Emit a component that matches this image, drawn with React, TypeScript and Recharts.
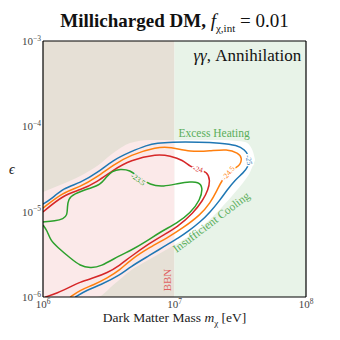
import React from 'react';
import {
  ComposedChart,
  XAxis,
  YAxis,
  Line,
  Area,
  ReferenceArea,
  ReferenceDot,
} from 'recharts';

const serif = '"Liberation Serif", "DejaVu Serif", serif';

// envelope drawn around the contours (pink below BBN mass, white above)
const envMass = [1e6, 1.35e6, 1.92e6, 2.58e6, 3.42e6, 4.59e6, 6.53e6, 1e7, 1.57e7, 2.22e7, 2.99e7, 3.44e7, 3.76e7, 3.96e7, 4.1e7];
const envLow = [1e-6, 1e-6, 1e-6, 1e-6, 1.38e-6, 2.02e-6, 2.79e-6, 4.07e-6, 6.44e-6, 1.07e-5, 1.79e-5, 2.35e-5, 2.92e-5, 3.52e-5, 4.03e-5];
const envHigh = [1.7e-5, 2.05e-5, 2.62e-5, 3.43e-5, 4.87e-5, 6.38e-5, 6.92e-5, 6.92e-5, 6.92e-5, 6.92e-5, 6.73e-5, 6.55e-5, 5.88e-5, 5.0e-5, 4.03e-5];

const bbnMass = 1e7;

// contours, [mass eV, epsilon]
const contour25: [number, number][] = [
  [1e6, 1.23e-5], [1.135e6, 1.37e-5], [1.43e6, 1.89e-5], [1.92e6, 2.17e-5], [2.58e6, 2.84e-5],
  [3.42e6, 4.03e-5], [4.59e6, 5.0e-5], [6.19e6, 6.04e-5], [7.38e6, 6.38e-5], [9.27e6, 6.55e-5],
  [1.57e7, 6.55e-5], [2.22e7, 6.38e-5], [2.99e7, 6.04e-5], [3.44e7, 5.28e-5], [3.63e7, 4.61e-5],
  [3.69e7, 4.03e-5], [3.63e7, 3.34e-5], [3.33e7, 2.84e-5], [2.89e7, 2.35e-5], [2.51e7, 1.79e-5],
  [2.22e7, 1.37e-5], [1.87e7, 9.91e-6], [1.57e7, 7.57e-6], [1.25e7, 5.78e-6], [1.1e7, 5.05e-6],
  [8.2e6, 3.85e-6], [6.53e6, 3.1e-6], [4.59e6, 2.25e-6], [3.86e6, 1.81e-6], [2.72e6, 1.38e-6],
  [2.17e6, 1.21e-6], [1.76e6, 1.0e-6],
];
const contour245: [number, number][] = [
  [1e6, 1.1e-5], [1.43e6, 1.7e-5], [1.92e6, 1.95e-5], [2.58e6, 2.55e-5], [3.42e6, 3.52e-5],
  [4.59e6, 4.61e-5], [7.38e6, 5.73e-5], [9.27e6, 5.73e-5], [1.32e7, 5.0e-5], [1.87e7, 5.14e-5],
  [2.51e7, 5.42e-5], [3.05e7, 4.87e-5], [3.27e7, 4.26e-5], [3.16e7, 3.52e-5], [2.89e7, 3.25e-5],
  [2.56e7, 2.84e-5], [2.3e7, 2.35e-5], [2.11e7, 1.79e-5], [1.87e7, 1.26e-5], [1.57e7, 9.14e-6],
  [1.16e7, 6.44e-6], [8.79e6, 4.91e-6], [6.53e6, 3.85e-6], [4.59e6, 2.71e-6], [3.86e6, 2.07e-6],
  [3.08e6, 1.67e-6], [2.41e6, 1.38e-6], [1.92e6, 1.21e-6], [1.61e6, 1.0e-6],
];
const contour24: [number, number][] = [
  [1e6, 9.91e-6], [1.43e6, 1.57e-5], [1.92e6, 1.79e-5], [2.58e6, 2.23e-5], [3.42e6, 3.08e-5],
  [4.59e6, 4.03e-5], [7.38e6, 4.74e-5], [9.27e6, 4.49e-5], [1.16e7, 4.03e-5], [1.32e7, 3.34e-5],
  [1.51e7, 3.16e-5], [1.77e7, 2.92e-5], [1.87e7, 2.35e-5], [1.8e7, 1.79e-5], [1.65e7, 1.37e-5],
  [1.39e7, 9.64e-6], [1.05e7, 6.61e-6], [8.2e6, 5.32e-6], [6.53e6, 4.3e-6], [4.59e6, 2.94e-6],
  [3.86e6, 2.37e-6], [3.08e6, 1.91e-6], [2.41e6, 1.67e-6], [1.92e6, 1.5e-6], [1.61e6, 1.31e-6],
  [1.285e6, 1.11e-6], [1.04e6, 1.0e-6],
];
const contour235: [number, number][] = [
  [1e6, 7.57e-6], [1.24e6, 7.78e-6], [1.43e6, 8.2e-6], [1.53e6, 9.14e-6], [1.53e6, 1.13e-5],
  [1.56e6, 1.41e-5], [1.7e6, 1.61e-5], [2.29e6, 1.89e-5], [2.72e6, 2.05e-5], [3.03e6, 2.55e-5],
  [3.36e6, 3.0e-5], [3.86e6, 3.16e-5], [4.59e6, 3.08e-5], [5.3e6, 2.55e-5], [6.53e6, 2.05e-5],
  [8.2e6, 1.95e-5], [1.1e7, 2.17e-5], [1.32e7, 2.23e-5], [1.51e7, 2.23e-5], [1.65e7, 1.95e-5],
  [1.57e7, 1.37e-5], [1.32e7, 9.64e-6], [1.05e7, 7.36e-6], [7.78e6, 5.78e-6], [6.19e6, 4.53e-6],
  [4.59e6, 3.46e-6], [3.86e6, 3.1e-6], [2.72e6, 2.25e-6], [2.29e6, 2.19e-6], [1.92e6, 2.31e-6],
  [1.61e6, 2.86e-6], [1.285e6, 3.85e-6], [1.135e6, 4.66e-6], [1.08e6, 5.93e-6], [1e6, 6.98e-6],
];

const xMajor = [1e6, 1e7, 1e8];
const xMinor = [2e6, 3e6, 4e6, 5e6, 6e6, 7e6, 8e6, 9e6, 2e7, 3e7, 4e7, 5e7, 6e7, 7e7, 8e7, 9e7];
const yMajor = [1e-6, 1e-5, 1e-4, 1e-3];
const yMinor = [
  2e-6, 3e-6, 4e-6, 5e-6, 6e-6, 7e-6, 8e-6, 9e-6,
  2e-5, 3e-5, 4e-5, 5e-5, 6e-5, 7e-5, 8e-5, 9e-5,
  2e-4, 3e-4, 4e-4, 5e-4, 6e-4, 7e-4, 8e-4, 9e-4,
];

const envelopeRows = envMass.map((m, i) => ({
  m,
  pink: m <= bbnMass ? [envLow[i], envHigh[i]] : null,
  white: m >= bbnMass ? [envLow[i], envHigh[i]] : null,
}));

const toRows = (pts: [number, number][]) => pts.map(([m, eps]) => ({ m, eps }));

const contours = [
  { key: 'c25', color: '#1f77b4', rows: toRows(contour25) },
  { key: 'c245', color: '#ff7f0e', rows: toRows(contour245) },
  { key: 'c24', color: '#d62728', rows: toRows(contour24) },
  { key: 'c235', color: '#2ca02c', rows: toRows(contour235) },
];

// text placed in data coordinates
const notes = [
  { text: '-25', m: 3.69e7, eps: 4.03e-5, color: '#1f77b4', angle: 80, size: 7.5, halo: '#fff' },
  { text: '-24.5', m: 2.56e7, eps: 2.84e-5, color: '#ff7f0e', angle: -50, size: 7.5, halo: '#fff' },
  { text: '-24', m: 1.51e7, eps: 3.16e-5, color: '#d62728', angle: 15, size: 7.5, halo: '#fff' },
  { text: '-23.5', m: 5.3e6, eps: 2.4e-5, color: '#2ca02c', angle: 35, size: 7.5, halo: '#fbe9e9' },
  { text: 'Excess Heating', m: 2.0e7, eps: 8.35e-5, color: '#5aae5a', angle: 0, size: 11.5, halo: null },
  { text: 'Insufficient Cooling', m: 1.9e7, eps: 7.57e-6, color: '#5aae5a', angle: -37, size: 11.5, halo: null },
  { text: 'BBN', m: 8.79e6, eps: 1.58e-6, color: '#e06060', angle: -90, size: 11, halo: null },
];

const supText = (v: number) => {
  const e = Math.round(Math.log10(v));
  return e < 0 ? `\u2212${-e}` : `${e}`;
};

const BottomTick = (props: any) => {
  const { x, y, payload } = props;
  return (
    <text x={x} y={y} dy={9} textAnchor="middle" fontSize={11} fill="#444" fontFamily={serif}>
      10<tspan dy={-4.5} fontSize={7.5}>{supText(payload.value)}</tspan>
    </text>
  );
};

const LeftTick = (props: any) => {
  const { x, y, payload } = props;
  return (
    <text x={x} y={y} dy={4} textAnchor="end" fontSize={11} fill="#444" fontFamily={serif}>
      10<tspan dy={-4.5} fontSize={7.5}>{supText(payload.value)}</tspan>
    </text>
  );
};

const noteShape = (n: (typeof notes)[number]) => (p: any) => (
  <text
    x={p.cx}
    y={p.cy}
    dy={n.size * 0.35}
    textAnchor="middle"
    fontSize={n.size}
    fill={n.color}
    fontFamily={serif}
    stroke={n.halo || 'none'}
    strokeWidth={n.halo ? 3 : 0}
    paintOrder="stroke"
    transform={`rotate(${n.angle} ${p.cx} ${p.cy})`}
  >
    {n.text}
  </text>
);

const tickAxis = { type: 'number' as const, scale: 'log' as const, allowDataOverflow: true, mirror: true, tick: false };

export default function App() {
  return (
    <div style={{ position: 'absolute', left: 0, top: 0, width: 340, height: 340, background: '#fff', fontFamily: serif }}>
      <div
        style={{
          position: 'absolute', top: 10, left: 0, width: 349, textAlign: 'center',
          fontSize: 19, fontWeight: 'bold', lineHeight: '22px', color: '#111',
        }}
      >
        Millicharged DM,{' '}
        <span style={{ fontWeight: 'normal' }}>
          <i>f</i>
          <sub style={{ fontSize: 11 }}>χ,int</sub> = 0.01
        </span>
      </div>
      <ComposedChart
        width={340}
        height={340}
        data={envelopeRows}
        margin={{ top: 41, right: 34, bottom: 0, left: 0 }}
        style={{ position: 'absolute', left: 0, top: 0 }}
      >
        <XAxis
          xAxisId="x" type="number" dataKey="m" scale="log" domain={[1e6, 1e8]} allowDataOverflow
          ticks={xMajor} interval={0} tick={<BottomTick />} tickLine={false} tickSize={0} tickMargin={2}
          axisLine={{ stroke: '#000', strokeWidth: 1.2 }} height={43}
        />
        <YAxis
          yAxisId="y" type="number" dataKey="eps" scale="log" domain={[1e-6, 1e-3]} allowDataOverflow
          ticks={yMajor} interval={0} tick={<LeftTick />} tickLine={false} tickSize={0} tickMargin={2}
          axisLine={{ stroke: '#000', strokeWidth: 1.2 }} width={43}
        />
        <XAxis xAxisId="xb1" {...tickAxis} domain={[1e6, 1e8]} ticks={xMajor} interval={0} tickSize={5} axisLine={false} tickLine={{ stroke: '#000' }} />
        <XAxis xAxisId="xb2" {...tickAxis} domain={[1e6, 1e8]} ticks={xMinor} interval={0} tickSize={2.5} axisLine={false} tickLine={{ stroke: '#000' }} />
        <XAxis xAxisId="xt1" orientation="top" {...tickAxis} domain={[1e6, 1e8]} ticks={xMajor} interval={0} tickSize={5} axisLine={{ stroke: '#000', strokeWidth: 1.2 }} tickLine={{ stroke: '#000' }} />
        <XAxis xAxisId="xt2" orientation="top" {...tickAxis} domain={[1e6, 1e8]} ticks={xMinor} interval={0} tickSize={2.5} axisLine={false} tickLine={{ stroke: '#000' }} />
        <YAxis yAxisId="yl1" {...tickAxis} domain={[1e-6, 1e-3]} ticks={yMajor} interval={0} tickSize={5} axisLine={false} tickLine={{ stroke: '#000' }} />
        <YAxis yAxisId="yl2" {...tickAxis} domain={[1e-6, 1e-3]} ticks={yMinor} interval={0} tickSize={2.5} axisLine={false} tickLine={{ stroke: '#000' }} />
        <YAxis yAxisId="yr1" orientation="right" {...tickAxis} domain={[1e-6, 1e-3]} ticks={yMajor} interval={0} tickSize={5} axisLine={{ stroke: '#000', strokeWidth: 1.2 }} tickLine={{ stroke: '#000' }} />
        <YAxis yAxisId="yr2" orientation="right" {...tickAxis} domain={[1e-6, 1e-3]} ticks={yMinor} interval={0} tickSize={2.5} axisLine={false} tickLine={{ stroke: '#000' }} />

        <ReferenceArea xAxisId="x" yAxisId="y" x1={1e6} x2={bbnMass} y1={1e-6} y2={1e-3} fill="#e6e0d6" fillOpacity={1} stroke="none" />
        <ReferenceArea xAxisId="x" yAxisId="y" x1={bbnMass} x2={1e8} y1={1e-6} y2={1e-3} fill="#e8f3e8" fillOpacity={1} stroke="none" />

        <Area xAxisId="x" yAxisId="y" dataKey="pink" type="monotone" fill="#fbe9e9" fillOpacity={1} stroke="none" isAnimationActive={false} />
        <Area xAxisId="x" yAxisId="y" dataKey="white" type="monotone" fill="#ffffff" fillOpacity={1} stroke="none" isAnimationActive={false} />

        {contours.map((c) => (
          <Line
            key={c.key}
            xAxisId="x"
            yAxisId="y"
            data={c.rows}
            dataKey="eps"
            type="basis"
            stroke={c.color}
            strokeWidth={1.5}
            dot={false}
            activeDot={false}
            isAnimationActive={false}
          />
        ))}

        {notes.map((n) => (
          <ReferenceDot
            key={n.text}
            xAxisId="x"
            yAxisId="y"
            x={n.m}
            y={n.eps}
            r={0}
            shape={noteShape(n)}
          />
        ))}
        <ReferenceDot
          xAxisId="x"
          yAxisId="y"
          x={9.2e7}
          y={6.9e-4}
          r={0}
          shape={(p: any) => (
            <text x={p.cx} y={p.cy} dy={6} textAnchor="end" fontSize={17} fill="#111" fontFamily={serif}>
              <tspan fontStyle="italic">γγ</tspan>, Annihilation
            </text>
          )}
        />
      </ComposedChart>
      <div
        style={{
          position: 'absolute', left: 0, width: 349, top: 310, textAlign: 'center',
          fontSize: 13.5, lineHeight: '16px', color: '#222',
        }}
      >
        Dark Matter Mass <i>m</i>
        <sub style={{ fontSize: 9, lineHeight: 0 }}>χ</sub> [eV]
      </div>
      <div style={{ position: 'absolute', left: 9, top: 162, fontSize: 14, fontStyle: 'italic', color: '#222' }}>ϵ</div>
    </div>
  );
}
